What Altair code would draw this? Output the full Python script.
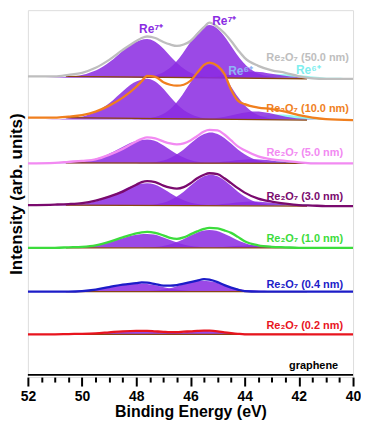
import altair as alt
import pandas as pd

# ---------------- data ----------------
SAMPLES = ["50.0 nm", "10.0 nm", "5.0 nm", "3.0 nm", "1.0 nm", "0.4 nm", "0.2 nm"]
LINE_COLORS = ["#BEBEBE", "#F07F1E", "#F28AF2", "#7A0A6E", "#3CDC3C", "#1C1CC8", "#E8141E"]
OFFSETS = [301, 259, 215, 172.5, 130, 86, 43]          # baseline of each stacked spectrum
GRAPHENE_E = [52, 40]
GRAPHENE_Y = [2.3, 2.3]

ENERGY = [52, 51, 50.5, 50, 49.5, 49, 48.5, 48, 47.8, 47.6, 47.3, 47.0, 46.75, 46.5,
          46.25, 46.0, 45.75, 45.5, 45.3, 45.0, 44.75, 44.5, 44.25, 44.0, 43.5, 43.0,
          42.5, 42.0, 41.5, 41.0, 40.0]

ENV_50 = [1.5, 1.5, 3, 5, 10, 18, 28, 37, 40, 41.5, 40, 36, 33.5, 32, 33.5, 37, 44, 51,
          55.5, 51, 45, 37, 28, 20, 12, 7.5, 5, 1.5, -0.5, -1, -1]
ENV_10 = [2, 2, 3, 4.5, 8, 14, 22, 33, 38.5, 44, 43, 37.5, 35, 34, 35, 39, 47, 55,
          57.3, 54, 46, 30, 19, 15.5, 12, 10.5, 8, 4.5, 2, 0.5, -0.5]
ENV_5 = [0, 0.5, 1.5, 2.5, 4, 8.5, 14.5, 22, 24.5, 26, 25, 22, 20, 19, 20, 23, 27.5, 32,
         33.5, 33, 29, 23, 17, 13, 7, 4, 2.5, 1, 0, 0, 0]
ENV_3 = [0.5, 1, 1.5, 2.5, 5, 9, 14, 21, 23.5, 24.5, 23.5, 20, 18, 17, 18.5, 22.5, 27.5,
         31, 32.5, 31.5, 27.5, 22.5, 17.5, 13, 7, 4, 2, 0.5, 0, -0.5, -0.5]
ENV_1 = [0, 0, 0.5, 1, 2.5, 6, 10.5, 14.5, 15.5, 16, 15, 12.5, 10, 9, 10.5, 13.5, 16.5,
         19, 20, 19.5, 17.5, 15, 11, 6.5, 2.5, 1, 0.5, 0, 0, 0, 0]
ENV_04 = [0, 0, 0, 0.5, 2, 4.5, 7, 8.5, 9.3, 9, 7.5, 6, 6, 6.5, 8, 9.5, 11, 12.5, 12,
          9.5, 6.5, 4, 2, 0.5, 0, 0, 0, 0, 0, 0, 0]
ENV_02 = [0, 0, 0.3, 0.5, 1, 2, 3, 3.5, 3.5, 3.5, 3, 2.5, 2.2, 2.2, 2.7, 3, 3.5, 3.8,
          3.7, 3, 2, 1.2, 0.5, 0, 0, 0, 0, 0, 0, 0, 0]
ENVELOPES = [ENV_50, ENV_10, ENV_5, ENV_3, ENV_1, ENV_04, ENV_02]

# fitted-component line shape (normalised, offset = E - centre)
PROFILE_OFFSET = [-3.0, -2.5, -2.25, -2.0, -1.75, -1.5, -1.25, -1.0, -0.75, -0.5, -0.25,
                  0.0, 0.25, 0.5, 0.75, 1.0, 1.25, 1.5, 1.75, 2.0, 2.25, 2.5, 2.75,
                  3.0, 3.5, 4.0]
PROFILE_NARROW = [0, .01, .02, .045, .09, .17, .29, .45, .64, .82, .95, 1, .95, .82,
                  .64, .45, .29, .17, .09, .045, .02, .01, .005, 0, 0, 0]
PROFILE_BROAD = [0, .01, .02, .045, .09, .17, .29, .45, .64, .82, .95, 1, .97, .9, .78,
                 .63, .48, .35, .24, .16, .10, .06, .035, .02, .005, 0]

A_CENTER = [47.6, 47.6, 47.6, 47.6, 47.6, 47.85, 47.8]
A_AMP = [39, 41, 24, 22.5, 14, 8, 3]
B_CENTER = [45.3, 45.3, 45.25, 45.25, 45.3, 45.55, 45.5]
B_AMP = [53, 55, 31, 31, 18, 11, 3.3]
C_CENTER = [43.7, 43.6, 43.7, 43.7, 43.7, 43.9, 43.9]
C_AMP = [6, 8, 4, 4, 2.5, 1, 0]
D_CENTER = [42.6, 42.7, 42.6, 42.6, 42.6, 42.6, 42.6]
D_AMP = [3.5, 5, 2, 2, 1, 0.5, 0]

BG_E = [50.6, 41.7]
BG_LEFT = [1.5, 2, 0.5, 0.5, 0, 0, 0]
BG_RIGHT = [-1, -0.5, 0, -0.5, 0, 0, 0]

LABEL_TEXT = ["Re₂O₇ (50.0 nm)", "Re₂O₇ (10.0 nm)", "Re₂O₇ (5.0 nm)", "Re₂O₇ (3.0 nm)",
              "Re₂O₇ (1.0 nm)", "Re₂O₇ (0.4 nm)", "Re₂O₇ (0.2 nm)"]
LABEL_E = [40.15, 40.15, 40.37, 40.37, 40.37, 40.37, 40.37]
LABEL_LIFT = [20, 11, 10, 8.5, 9, 7, 8]
GRAPHENE_LABEL = ("graphene", 40.55, 11.3)

PEAK_LABELS = [("Re⁷⁺", 47.45, 350, "#8A2BE2"), ("Re⁷⁺", 44.75, 358, "#8A2BE2"),
               ("Re⁶⁺", 41.65, 309, "#7FEFEF")]
HIDDEN_LABEL = ("Re⁶⁺", 44.15, 308, "#8FB4F5")

TICK_VALUES = [52, 51.5, 51, 50.5, 50, 49.5, 49, 48.5, 48, 47.5, 47, 46.5, 46, 45.5, 45,
               44.5, 44, 43.5, 43, 42.5, 42, 41.5, 41, 40.5, 40]

# ---------------- chart ----------------
FONT = "Arial"
PURPLE = "#8A2BE2"
CYAN = "#7FF5EC"
BROWN = "#8B4513"

X_SCALE = alt.Scale(domain=[52, 40], nice=False, zero=False)
Y_SCALE = alt.Scale(domain=[0, 369], nice=False, zero=False)
X_AX = alt.Axis(values=TICK_VALUES,
                labelExpr="datum.value % 2 === 0 ? format(datum.value, 'd') : ''",
                tickSize={"condition": {"test": "datum.value % 2 === 0", "value": 9}, "value": 5},
                tickWidth=2, tickColor="black", domain=False, grid=False,
                labelFontSize=14, labelFontWeight="bold", labelFont=FONT, labelColor="black",
                labelPadding=4, labelFlush=False, labelOverlap=False,
                title="Binding Energy (eV)", titleFontSize=16, titleFontWeight="bold",
                titleFont=FONT, titleColor="black", titlePadding=0)
Y_AX = alt.Axis(labels=False, ticks=False, domain=False, grid=False,
                title="Intensity (arb. units)", titleFontSize=17, titleFontWeight="bold",
                titleFont=FONT, titleColor="black", titlePadding=2)


def X(field="E"):
    return alt.X(f"{field}:Q", scale=X_SCALE, axis=X_AX)


def Y(field="y"):
    return alt.Y(f"{field}:Q", scale=Y_SCALE, axis=Y_AX)


def text_layer(txt, e, y, color, size=12):
    df = pd.DataFrame({"E": [e], "y": [y], "t": [txt]})
    return alt.Chart(df).mark_text(font=FONT, fontWeight="bold", fontSize=size,
                                   color=color, align="center", baseline="middle").encode(
        x=X(), y=Y(), text="t:N")


layers = []

for i, name in enumerate(SAMPLES):
    off = OFFSETS[i]
    comp_rows = []
    for comp, centers, amps, prof in [("D", D_CENTER, D_AMP, PROFILE_NARROW),
                                      ("C", C_CENTER, C_AMP, PROFILE_NARROW),
                                      ("A", A_CENTER, A_AMP, PROFILE_BROAD),
                                      ("B", B_CENTER, B_AMP, PROFILE_NARROW)]:
        if amps[i] <= 0:
            continue
        for d, p in zip(PROFILE_OFFSET, prof):
            comp_rows.append({"comp": comp, "E": centers[i] + d,
                              "y": off + amps[i] * p, "y0": off})
    cdf = pd.DataFrame(comp_rows)
    cyan = cdf[cdf.comp == "D"]
    purple = cdf[cdf.comp != "D"]
    if len(cyan):
        layers.append(alt.Chart(cyan).mark_area(color=CYAN, opacity=0.85, clip=True,
                                                interpolate="monotone").encode(
            x=X(), y=Y(), y2="y0:Q"))
    layers.append(alt.Chart(purple).mark_area(color=PURPLE, opacity=0.86, clip=True,
                                              interpolate="monotone").encode(
        x=X(), y=Y(), y2="y0:Q", detail="comp:N"))
    if i == 0:
        layers.append(text_layer(*HIDDEN_LABEL))
    bg = pd.DataFrame({"E": BG_E, "y": [off + BG_LEFT[i], off + BG_RIGHT[i]]})
    layers.append(alt.Chart(bg).mark_line(color=BROWN, strokeWidth=1.3, clip=True).encode(
        x=X(), y=Y()))
    env = pd.DataFrame({"E": ENERGY, "y": [off + h for h in ENVELOPES[i]]})
    layers.append(alt.Chart(env).mark_line(color=LINE_COLORS[i], strokeWidth=2.3, clip=True,
                                           interpolate="monotone").encode(x=X(), y=Y()))
    lab = pd.DataFrame({"E": [LABEL_E[i]], "y": [off + LABEL_LIFT[i]], "t": [LABEL_TEXT[i]]})
    layers.append(alt.Chart(lab).mark_text(font=FONT, fontWeight="bold", fontSize=11,
                                           color=LINE_COLORS[i], align="right",
                                           baseline="middle").encode(x=X(), y=Y(), text="t:N"))

gdf = pd.DataFrame({"E": GRAPHENE_E, "y": GRAPHENE_Y})
layers.append(alt.Chart(gdf).mark_line(color="black", strokeWidth=1.8).encode(x=X(), y=Y()))
gl = pd.DataFrame({"E": [GRAPHENE_LABEL[1]], "y": [GRAPHENE_LABEL[2]], "t": [GRAPHENE_LABEL[0]]})
layers.append(alt.Chart(gl).mark_text(font=FONT, fontWeight="bold", fontSize=11, color="black",
                                      align="right", baseline="middle").encode(
    x=X(), y=Y(), text="t:N"))

for lab in PEAK_LABELS:
    layers.append(text_layer(*lab))

chart = alt.layer(*layers).properties(
    width=327, height=369,
    padding={"left": 0, "top": 1, "right": 0, "bottom": 0},
).configure_view(stroke="black", strokeWidth=2.5).configure(font=FONT)

chart.save("out.html", embed_options={"renderer": "svg", "actions": False})
